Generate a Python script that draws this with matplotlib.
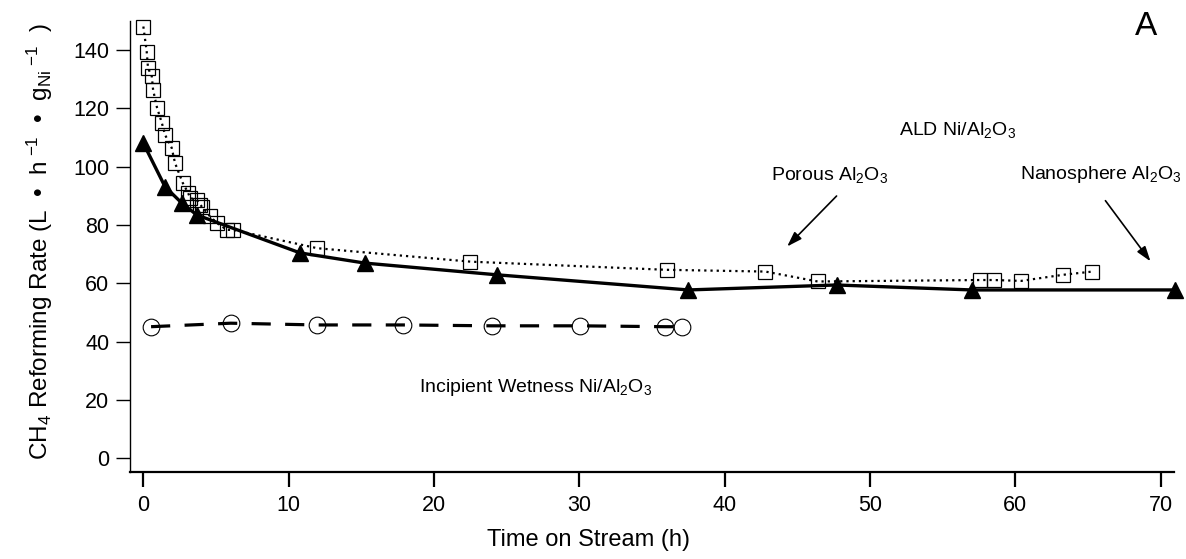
import matplotlib
matplotlib.use("Agg")
import matplotlib.pyplot as plt

plt.rcParams["font.family"] = ["Liberation Sans", "DejaVu Sans"]
plt.rcParams["mathtext.fontset"] = "custom"
plt.rcParams["mathtext.rm"] = "Liberation Sans"
plt.rcParams["mathtext.it"] = "Liberation Sans:italic"
plt.rcParams["mathtext.bf"] = "Liberation Sans:bold"

# Nanosphere Al2O3 (ALD Ni) - filled triangles, solid line
nano_t = [0.0, 1.49, 2.64, 3.68, 10.78, 15.25, 24.3, 37.5, 47.7, 56.99, 71.0]
nano_rate = [108.0, 93.1, 87.5, 83.4, 70.4, 66.9, 62.9, 57.7, 59.4, 57.7, 57.7]

# Porous Al2O3 (ALD Ni) - open squares, dotted line
porous_t = [0.0, 0.23, 0.32, 0.58, 0.67, 0.94, 1.27, 1.49, 1.95, 2.18, 2.71,
            3.08, 3.21, 3.67, 3.9, 4.02, 4.59, 5.05, 5.74, 6.17, 11.97, 22.5,
            36.0, 42.8, 46.4, 57.6, 58.5, 60.4, 63.3, 65.3]
porous_rate = [148.0, 139.4, 133.8, 130.9, 126.3, 120.2, 115.0, 110.9, 106.4,
               101.2, 94.4, 91.0, 89.2, 88.6, 86.9, 86.3, 82.9, 80.7, 78.3,
               78.3, 72.0, 67.4, 64.6, 64.0, 60.6, 61.1, 61.1, 60.8, 62.9, 64.0]

# Incipient wetness Ni/Al2O3 - open circles, dashed line
iw_t = [0.53, 6.01, 11.93, 17.89, 23.97, 30.05, 35.9, 37.04]
iw_rate = [45.1, 46.3, 45.7, 45.7, 45.4, 45.4, 45.1, 45.1]

x_ticks = [0, 10, 20, 30, 40, 50, 60, 70]
y_ticks = [0, 20, 40, 60, 80, 100, 120, 140]

fig = plt.figure(figsize=(11.86, 5.59), dpi=100)
ax = fig.add_axes([0.1096, 0.1562, 0.8803, 0.8068])

ax.plot(iw_t, iw_rate, color="black", lw=2.3, linestyle=(0, (6, 4.5)),
        marker="o", ms=12, mfc="none", mec="black", mew=0.8)
ax.plot(porous_t, porous_rate, color="black", lw=1.6, linestyle=(0, (1, 1.8)),
        marker="s", ms=9.5, mfc="none", mec="black", mew=0.9, clip_on=False)
ax.plot(nano_t, nano_rate, color="black", lw=2.4, linestyle="-",
        marker="^", ms=11.5, mfc="black", mec="black", clip_on=False)

ax.set_xlim(-0.92, 70.92)
ax.set_ylim(-4.6, 150)
ax.set_xticks(x_ticks)
ax.set_yticks(y_ticks)

for s in ["top", "right"]:
    ax.spines[s].set_visible(False)
ax.spines["left"].set_linewidth(1.0)
ax.spines["bottom"].set_linewidth(1.6)
ax.tick_params(axis="x", direction="out", length=10.5, width=1.6, labelsize=15.5, pad=6)
ax.tick_params(axis="y", direction="out", length=10, width=1.0, labelsize=15.5, pad=5)

ax.set_xlabel("Time on Stream (h)", fontsize=17)
ax.xaxis.set_label_coords(0.439, -0.128)
ax.set_ylabel(r"CH$_\mathrm{4}$ Reforming Rate (L  •  h$^{\ \mathrm{-1}}$  •  g$_\mathrm{Ni}$$^{\ \mathrm{-1}}$  )",
              fontsize=17.5)
ax.yaxis.set_label_coords(-0.072, 0.51)

ax.text(69.0, 148.0, "A", fontsize=24, ha="center", va="center")
ax.text(56.0, 112.6, r"ALD Ni/Al$_\mathrm{2}$O$_\mathrm{3}$", fontsize=14, ha="center", va="center")
ax.text(47.2, 97.2, r"Porous Al$_\mathrm{2}$O$_\mathrm{3}$", fontsize=14, ha="center", va="center")
ax.text(65.9, 97.2, r"Nanosphere Al$_\mathrm{2}$O$_\mathrm{3}$", fontsize=14, ha="center", va="center")
ax.text(27.0, 24.1, r"Incipient Wetness Ni/Al$_\mathrm{2}$O$_\mathrm{3}$", fontsize=14, ha="center", va="center")

arrow = dict(arrowstyle="-|>,head_length=0.9,head_width=0.3", color="black", lw=1.2,
             shrinkA=0, shrinkB=0)
ax.annotate("", xy=(44.3, 72.6), xytext=(47.7, 89.9), arrowprops=arrow)
ax.annotate("", xy=(69.3, 67.5), xytext=(66.2, 88.3), arrowprops=arrow)

fig.savefig("out.png", dpi=100, facecolor="white")
